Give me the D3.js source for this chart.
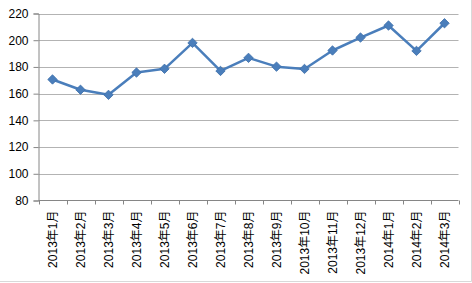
<!DOCTYPE html>
<html>
<head>
<meta charset="utf-8">
<script src="https://cdn.jsdelivr.net/npm/d3@7"></script>
<style>
  body { margin: 0; background: #fff; }
  svg { display: block; }
</style>
</head>
<body>
<svg id="chart" width="472" height="283"></svg>
<script>
// monthly values
const months = ["2013年1月", "2013年2月", "2013年3月", "2013年4月", "2013年5月", "2013年6月", "2013年7月",
  "2013年8月", "2013年9月", "2013年10月", "2013年11月", "2013年12月", "2014年1月", "2014年2月", "2014年3月"];
const values = [170.6, 162.9, 159.1, 175.8, 178.6, 198, 177, 186.8, 180.2, 178.5, 192.3, 202, 211, 192, 212.7];
const yTicks = [80, 100, 120, 140, 160, 180, 200, 220];

const svg = d3.select("#chart");
const fontFam = "'Liberation Sans', Arial, 'Noto Sans CJK SC', sans-serif";

const x = d3.scaleBand().domain(months).range([38.5, 458.5]);
const y = d3.scaleLinear().domain([80, 220]).range([200.5, 13.5]);

// outer chart border (only right/bottom show in the crop)
svg.append("line").attr("x1", 0).attr("x2", 471.5).attr("y1", 281.5).attr("y2", 281.5)
  .attr("stroke", "#d9d9d9");
svg.append("line").attr("x1", 471.5).attr("x2", 471.5).attr("y1", 0).attr("y2", 281.5)
  .attr("stroke", "#d9d9d9");

// gridlines
svg.append("g")
  .selectAll("line")
  .data(yTicks.slice(1))
  .join("line")
  .attr("x1", 38.5).attr("x2", 458.5)
  .attr("y1", d => Math.round(y(d)) + 0.5).attr("y2", d => Math.round(y(d)) + 0.5)
  .attr("stroke", "#b3b3b3");

// y axis
const yAxis = svg.append("g")
  .attr("transform", "translate(38.5,0)")
  .call(d3.axisLeft(y).tickValues(yTicks).tickSize(5).tickPadding(5));
yAxis.select(".domain").attr("stroke", "#868686");
yAxis.selectAll(".tick line").attr("stroke", "#868686");
yAxis.selectAll("text").attr("font-size", 12).attr("font-family", fontFam).attr("fill", "#000");

// x axis: ticks at category boundaries
const xg = svg.append("g").attr("transform", "translate(0,200.5)");
xg.append("line").attr("x1", 38.5).attr("x2", 458.5).attr("stroke", "#868686");
xg.selectAll(".bt")
  .data(d3.range(months.length + 1))
  .join("line")
  .attr("class", "bt")
  .attr("x1", i => Math.round(38.5 + i * x.step()) + 0.5)
  .attr("x2", i => Math.round(38.5 + i * x.step()) + 0.5)
  .attr("y1", 0).attr("y2", 4)
  .attr("stroke", "#868686");
xg.selectAll("text")
  .data(months)
  .join("text")
  .attr("transform", d => `translate(${x(d) + x.bandwidth() / 2 + 4},10) rotate(-90)`)
  .attr("text-anchor", "end")
  .attr("font-size", 12)
  .attr("font-family", fontFam)
  .attr("fill", "#000")
  .text(d => d);

// series line
const line = d3.line()
  .x((d, i) => x(months[i]) + x.bandwidth() / 2)
  .y(d => y(d));

svg.append("path")
  .datum(values)
  .attr("fill", "none")
  .attr("stroke", "#4a7ebb")
  .attr("stroke-width", 2.5)
  .attr("stroke-linejoin", "round")
  .attr("d", line);

// diamond markers
svg.append("g")
  .selectAll("path")
  .data(values)
  .join("path")
  .attr("d", d3.symbol(d3.symbolSquare, 44))
  .attr("transform", (d, i) => `translate(${x(months[i]) + x.bandwidth() / 2},${y(d)}) rotate(45)`)
  .attr("fill", "#4a7ebb")
  .attr("stroke", "#3f70ab")
  .attr("stroke-width", 0.8);
</script>
</body>
</html>
